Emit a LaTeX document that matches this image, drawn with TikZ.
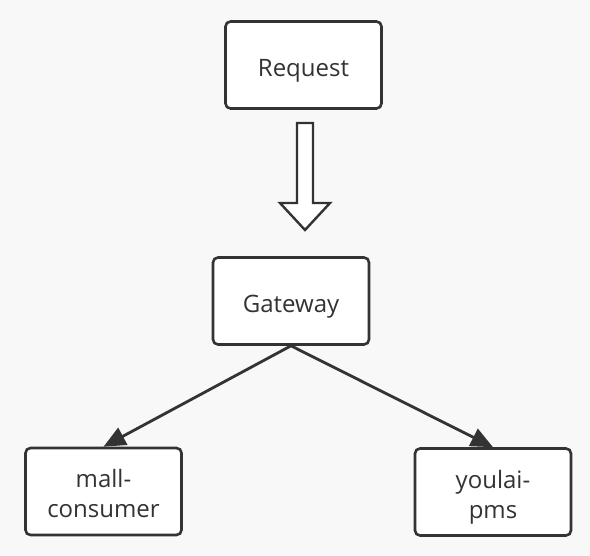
\documentclass[tikz,border=0pt]{standalone}
\usepackage{fontspec}
\setmainfont{Open Sans}
\usepackage{tikz}
\usetikzlibrary{arrows.meta}
\usetikzlibrary{shapes,calc}
\definecolor{ink}{HTML}{333333}
\definecolor{paper}{HTML}{F8F8F8}
\tikzstyle{box}=[rectangle, rounded corners=5pt, draw=ink, fill=white, line width=2.6pt, minimum width=156pt, minimum height=87pt, align=center, text=ink, font=\fontsize{24}{30}\selectfont, text height=24pt, text depth=0pt]
\tikzstyle{twoLine}=[text height=53pt, text depth=0pt]
\tikzstyle{edge}=[draw=ink, line width=2.8pt, -{Triangle[length=22pt,width=19pt]}]
\tikzstyle{bigArrow}=[draw=ink, fill=white, line width=2.4pt, line join=miter]

\begin{document}
\begin{tikzpicture}[x=1pt, y=-1pt]
      \fill[paper] (0,0) rectangle (590,556);
      \useasboundingbox (0,0) rectangle (590,556);
      \node(req) [box] at (303.5, 65){Request};
      \node(gw) [box] at (291, 301){Gateway};
      \node(mall) [box, twoLine] at (103.5, 491.5){mall-\\consumer};
      \node(pms) [box, twoLine] at (493, 492){youlai-\\pms};
      % hollow arrow between request and gateway
      \coordinate(tip) at (305, 230);
      \draw[bigArrow] ($(tip)+(-8,-107)$) -- ($(tip)+(8,-107)$) -- ($(tip)+(8,-27)$)
        -- ($(tip)+(25,-27)$) -- (tip) -- ($(tip)+(-25,-27)$) -- ($(tip)+(-8,-27)$) -- cycle;
      \draw[edge] (gw.south) to (mall.north);
      \draw[edge] (gw.south) to (pms.north);
    \end{tikzpicture}
\end{document}
